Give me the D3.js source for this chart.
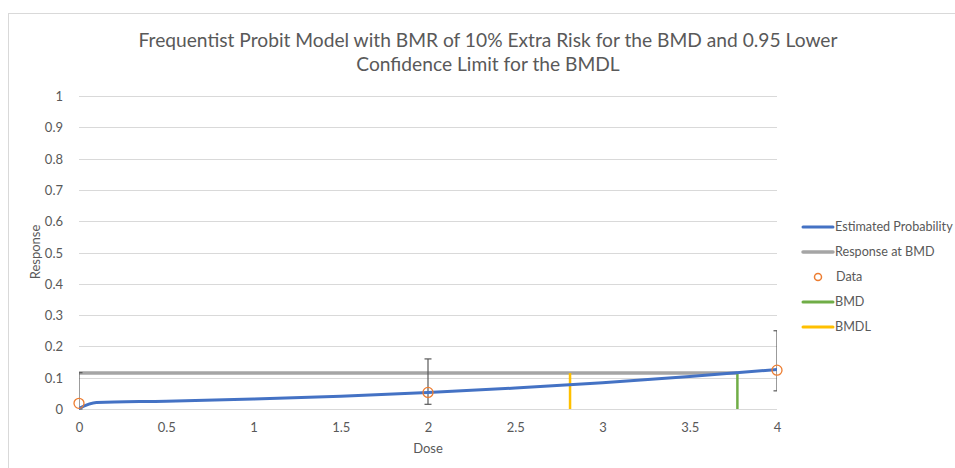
<!DOCTYPE html>
<html><head><meta charset="utf-8">
<script src="https://cdn.jsdelivr.net/npm/d3@7"></script>
<style>body{margin:0;background:#fff}svg{display:block}text{font-family:Lato,"Open Sans",sans-serif;fill:#595959}</style>
</head><body>
<svg id="c" width="955" height="468"></svg>
<script>
const titleLines = ["Frequentist Probit Model with BMR of 10% Extra Risk for the BMD and 0.95 Lower", "Confidence Limit for the BMDL"];
const xTicks = [0, 0.5, 1, 1.5, 2, 2.5, 3, 3.5, 4];
const yTicks = [0, 0.1, 0.2, 0.3, 0.4, 0.5, 0.6, 0.7, 0.8, 0.9, 1];
const curveDose = [0, 0.1, 0.5, 1, 1.5, 2, 2.5, 3, 3.5, 4];
const curveProb = [0.002, 0.021, 0.025, 0.032, 0.041, 0.053, 0.067, 0.084, 0.104, 0.126];
const dataDose = [0, 2, 4];
const dataResp = [0.018, 0.053, 0.124];
const dataLow = [0, 0.015, 0.058];
const dataHigh = [0.116, 0.16, 0.25];
const bmrResponse = 0.115;
const bmd = 3.773;
const bmdl = 2.814;
const legendNames = ["Estimated Probability", "Response at BMD", "Data", "BMD", "BMDL"];
const colors = {est:"#4472C4", resp:"#A5A5A5", data:"#ED7D31", bmd:"#70AD47", bmdl:"#FFC000"};

const svg = d3.select("#c");
const x = d3.scaleLinear().domain([0, 4]).range([79, 777]);
const y = d3.scaleLinear().domain([0, 1]).range([409, 96]);

// chart border
svg.append("rect").attr("x", 8.5).attr("y", 13.5).attr("width", 960).attr("height", 470)
  .attr("fill", "none").attr("stroke", "#d9d9d9");

// title
svg.append("text").attr("x", 488).attr("y", 47).attr("text-anchor", "middle")
  .style("font-size", "19.2px").selectAll("tspan").data(titleLines).join("tspan")
  .attr("x", 488).attr("dy", (d, i) => i ? 24 : 0).text(d => d);

// grid
svg.append("g").selectAll("line").data(yTicks).join("line")
  .attr("x1", x(0)).attr("x2", x(4)).attr("y1", d => Math.round(y(d)) + 0.5).attr("y2", d => Math.round(y(d)) + 0.5)
  .attr("stroke", "#d9d9d9").attr("stroke-width", 1);

// axes
const yAxis = svg.append("g").attr("transform", `translate(${x(0) - 13},0)`)
  .call(d3.axisLeft(y).tickValues(yTicks).tickSize(0).tickFormat(d3.format("~g")));
yAxis.select(".domain").remove();
yAxis.selectAll("text").style("font-size", "13px").attr("dy", "0.35em").attr("fill", "#595959");

const xAxis = svg.append("g").attr("transform", `translate(0,${y(0) + 11})`)
  .call(d3.axisBottom(x).tickValues(xTicks).tickSize(0).tickFormat(d3.format("~g")));
xAxis.select(".domain").remove();
xAxis.selectAll("text").style("font-size", "13px").attr("fill", "#595959");

svg.append("text").attr("x", x(2)).attr("y", 453).attr("text-anchor", "middle").style("font-size", "13px").text("Dose");
svg.append("text").attr("transform", "translate(40,252) rotate(-90)").attr("text-anchor", "middle").style("font-size", "13px").text("Response");

// clip
svg.append("clipPath").attr("id", "pa").append("rect").attr("x", x(0)).attr("y", y(1) - 5).attr("width", x(4) - x(0)).attr("height", y(0) - y(1) + 10);
const plot = svg.append("g").attr("clip-path", "url(#pa)");

// response at BMD
plot.append("line").attr("x1", x(0)).attr("x2", x(bmd)).attr("y1", y(bmrResponse)).attr("y2", y(bmrResponse))
  .attr("stroke", colors.resp).attr("stroke-width", 3.5);

// error bars
const eb = plot.append("g").attr("stroke", "#595959").attr("stroke-width", 1.2);
dataDose.forEach((d, i) => {
  eb.append("line").attr("x1", x(d)).attr("x2", x(d)).attr("y1", y(dataLow[i])).attr("y2", y(dataHigh[i]));
  [dataLow[i], dataHigh[i]].forEach(v => {
    eb.append("line").attr("x1", x(d) - 3.5).attr("x2", x(d) + 3.5).attr("y1", y(v)).attr("y2", y(v));
  });
});

// BMD / BMDL lines
plot.append("line").attr("x1", x(bmdl)).attr("x2", x(bmdl)).attr("y1", y(0)).attr("y2", y(bmrResponse))
  .attr("stroke", colors.bmdl).attr("stroke-width", 2.5);
plot.append("line").attr("x1", x(bmd)).attr("x2", x(bmd)).attr("y1", y(0)).attr("y2", y(bmrResponse))
  .attr("stroke", colors.bmd).attr("stroke-width", 2.5);

// estimated curve
plot.append("path").datum(curveDose.map((d, i) => [d, curveProb[i]]))
  .attr("d", d3.line().x(d => x(d[0])).y(d => y(d[1])).curve(d3.curveMonotoneX))
  .attr("fill", "none").attr("stroke", colors.est).attr("stroke-width", 3).attr("stroke-linecap", "round");

// data points
svg.append("g").selectAll("circle").data(dataDose).join("circle")
  .attr("cx", d => x(d)).attr("cy", (d, i) => y(dataResp[i])).attr("r", 5)
  .attr("fill", "none").attr("stroke", colors.data).attr("stroke-width", 1.3);

// legend
const lg = svg.append("g");
const lc = [colors.est, colors.resp, colors.data, colors.bmd, colors.bmdl];
legendNames.forEach((n, i) => {
  const yy = 227 + i * 25;
  if (i === 2) {
    lg.append("circle").attr("cx", 818).attr("cy", yy).attr("r", 3.5).attr("fill", "none").attr("stroke", lc[i]).attr("stroke-width", 1.5);
  } else {
    lg.append("line").attr("x1", 803).attr("x2", 833).attr("y1", yy).attr("y2", yy).attr("stroke", lc[i]).attr("stroke-width", i === 1 ? 3.5 : 3).attr("stroke-linecap", "round");
  }
  lg.append("text").attr("x", i === 2 ? 836 : 835).attr("y", yy).attr("dy", "0.35em").style("font-size", "12.6px").text(n);
});
</script>
</body></html>
